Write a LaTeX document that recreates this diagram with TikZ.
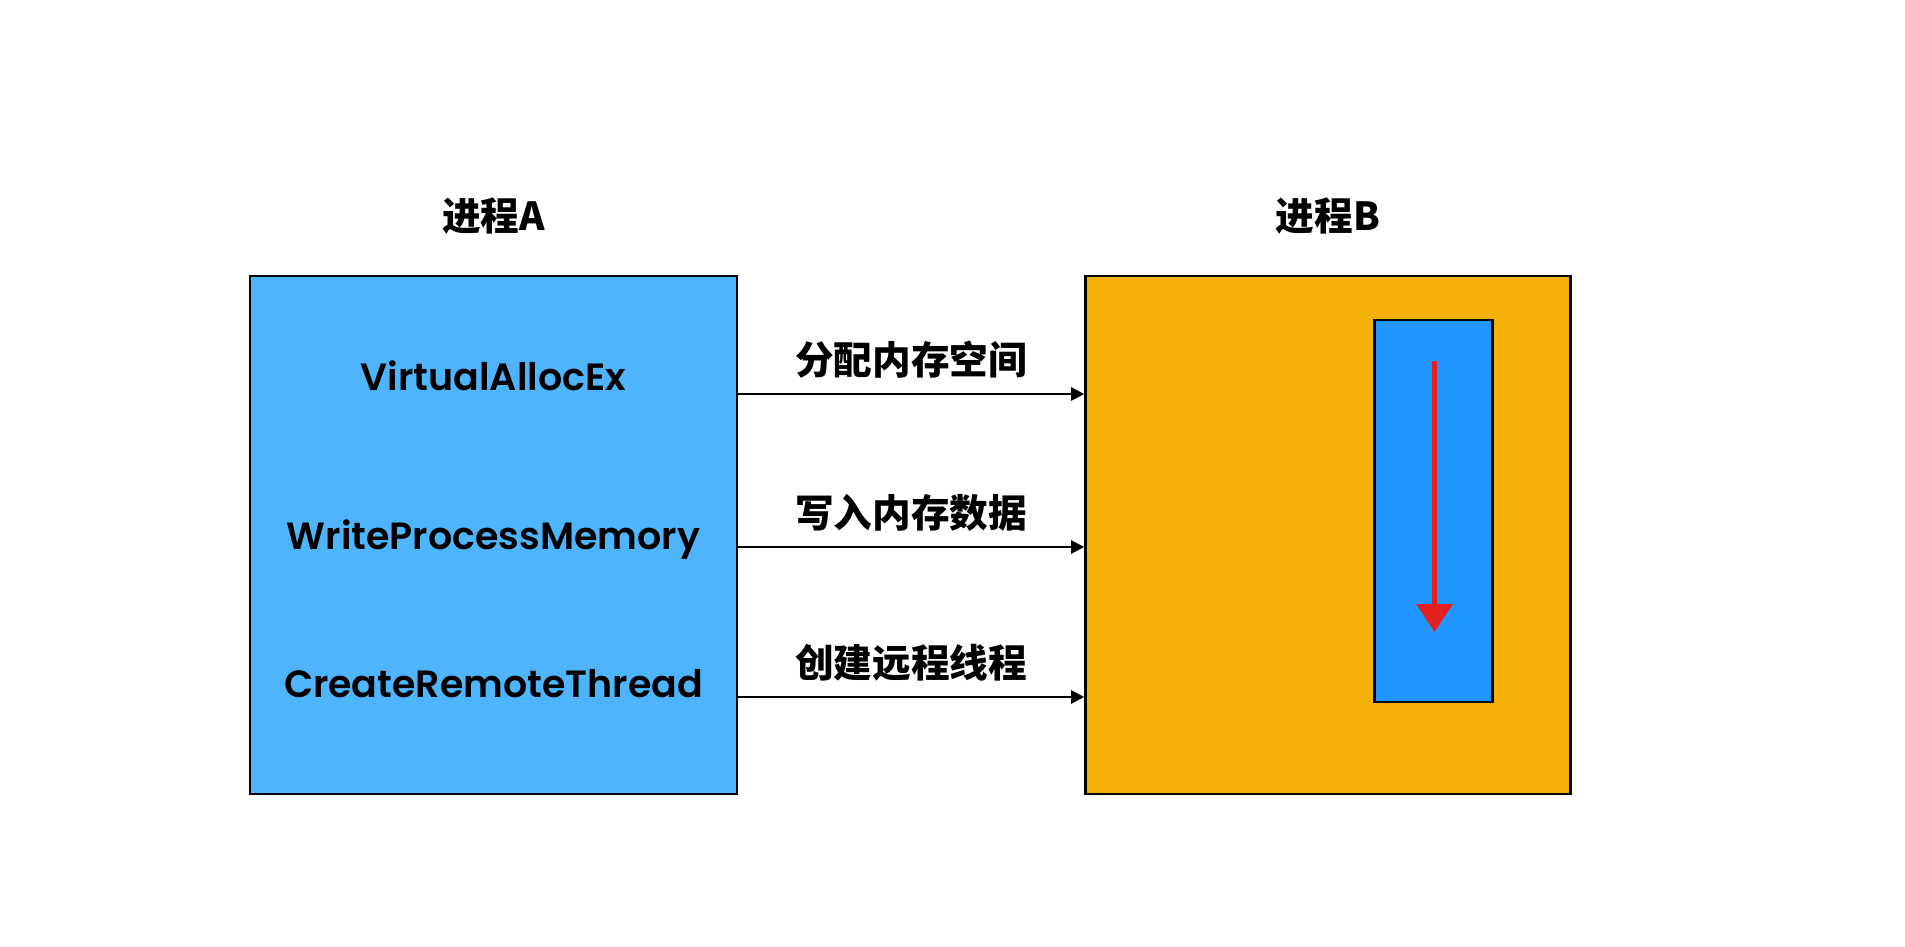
\documentclass[tikz,border=0pt]{standalone}
\usepackage{fontspec}
\setmainfont{Poppins}[BoldFont={Poppins SemiBold}]
\newfontfamily\cjk{Noto Sans CJK SC}
\usetikzlibrary{arrows.meta, positioning, calc}

\definecolor{procAblue}{RGB}{78,181,253}
\definecolor{procBorange}{RGB}{245,177,10}
\definecolor{regionblue}{RGB}{34,150,255}
\definecolor{flowred}{RGB}{226,32,32}

\begin{document}
\begin{tikzpicture}[
    procbox/.style={
        draw,
        line width=0.7pt,
        minimum width=4.87cm,
        minimum height=5.18cm,
        inner sep=0pt
    },
    regionbox/.style={
        draw,
        line width=0.7pt,
        fill=regionblue,
        minimum width=1.18cm,
        minimum height=3.82cm,
        inner sep=0pt
    },
    title/.style={
        font=\cjk\bfseries\fontsize{11}{13}\selectfont,
        inner sep=0pt
    },
    apitxt/.style={
        font=\bfseries\fontsize{10.8}{13}\selectfont,
        inner sep=0pt,
        anchor=base
    },
    steptxt/.style={
        font=\cjk\bfseries\fontsize{11}{13}\selectfont,
        inner sep=0pt
    },
    flow/.style={
        -{Triangle[length=1.3mm, width=1.3mm]},
        line width=0.6pt
    },
    redflow/.style={
        -{Triangle[length=2.8mm, width=3.5mm]},
        draw=flowred,
        line width=1.6pt
    }
]

\useasboundingbox (0,0) rectangle (19.05,9.46);

% =====================
% Process boxes
% =====================

\node[procbox, fill=procAblue] (procA) at (4.935,4.11) {};
\node[procbox, fill=procBorange, right=3.46cm of procA, minimum width=4.85cm] (procB) {};

\node[title] (titleA) at ($(procA.north)+(0,0.585)$) {进程A};
\node[title] (titleB) at ($(procB.north)+(0,0.585)$) {进程B};

% =====================
% API calls in process A
% =====================

\node[apitxt] (alloc) at ($(procA.center)+(0,1.45)$) {VirtualAllocEx};
\node[apitxt] (write) at ($(procA.center)+(0,-0.14)$) {WriteProcessMemory};
\node[apitxt] (thread) at ($(procA.center)+(0,-1.62)$) {CreateRemoteThread};

% =====================
% Calls into process B
% =====================

\coordinate (outAlloc) at ($(procA.east)+(0,1.41)$);
\coordinate (outWrite) at ($(procA.east)+(0,-0.12)$);
\coordinate (outThread) at ($(procA.east)+(0,-1.62)$);

\draw[flow] (outAlloc) -- (outAlloc -| procB.west)
    node[steptxt, midway, yshift=0.34cm] (stepAlloc) {分配内存空间};
\draw[flow] (outWrite) -- (outWrite -| procB.west)
    node[steptxt, midway, yshift=0.34cm] (stepWrite) {写入内存数据};
\draw[flow] (outThread) -- (outThread -| procB.west)
    node[steptxt, midway, yshift=0.34cm] (stepThread) {创建远程线程};

% =====================
% Memory region in process B
% =====================

\node[regionbox, below left=0.44cm and 0.78cm of procB.north east] (region) {};

\coordinate (flowtop) at ($(region.north)+(0.01,-0.42)$);
\coordinate (flowend) at ($(region.south)+(0.01,0.71)$);
\draw[redflow] (flowtop) -- (flowend);

\end{tikzpicture}
\end{document}
